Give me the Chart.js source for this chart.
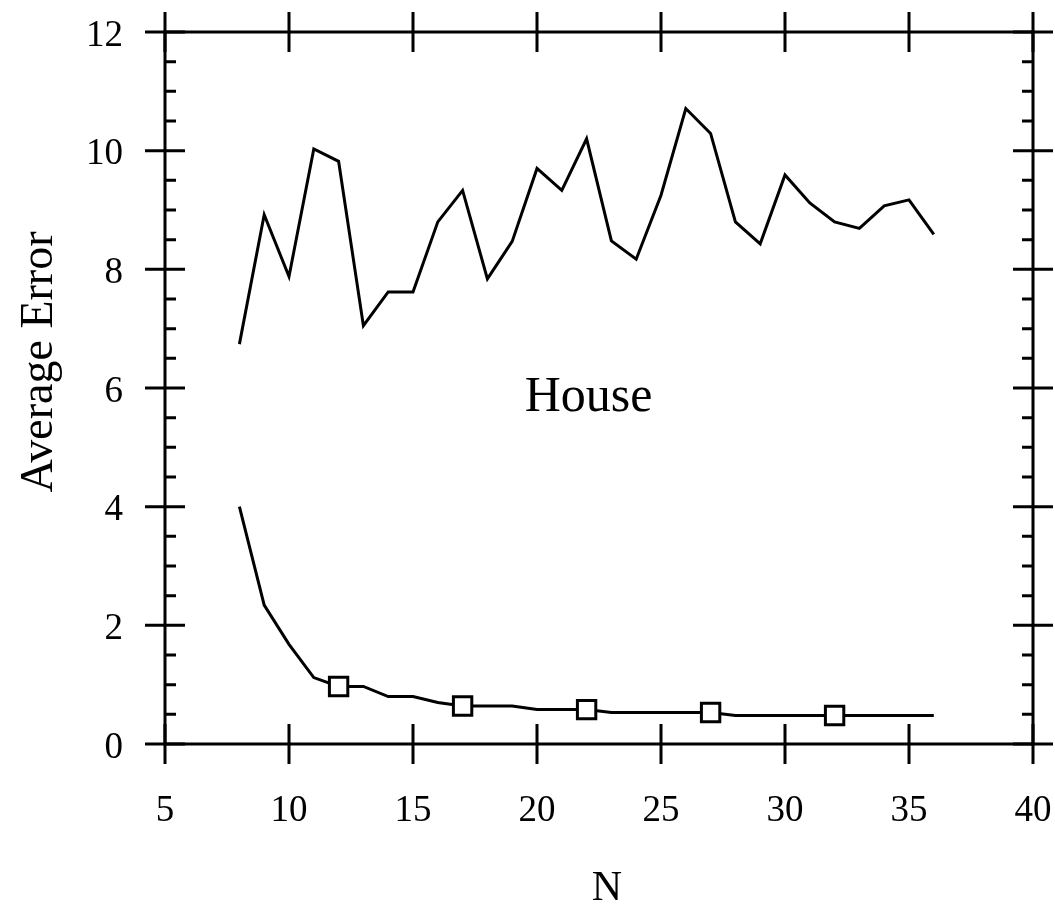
<!DOCTYPE html>
<html>
<head>
<meta charset="utf-8">
<title>House - Average Error</title>
<script src="https://cdn.jsdelivr.net/npm/chart.js@4"></script>
<style>
  html, body { margin: 0; padding: 0; background: #fff; }
  #wrap { width: 1055px; height: 904px; position: relative; }
</style>
</head>
<body>
<div id="wrap"><canvas id="errChart"></canvas></div>
<script>
// données
const nValues = [8, 9, 10, 11, 12, 13, 14, 15, 16, 17, 18, 19, 20, 21, 22, 23, 24, 25, 26, 27, 28, 29, 30, 31, 32, 33, 34, 35, 36];
const upperErr = [6.74, 8.92, 7.88, 10.03, 9.82, 7.05, 7.62, 7.62, 8.80, 9.33, 7.84, 8.47, 9.70, 9.33, 10.20,
  8.48, 8.17, 9.25, 10.71, 10.29, 8.80, 8.43, 9.59, 9.12, 8.80, 8.69, 9.07, 9.17, 8.59];
const lowerErr = [4.00, 2.34, 1.68, 1.12, 0.97, 0.97, 0.80, 0.80, 0.70, 0.64, 0.64, 0.64, 0.58, 0.58, 0.58,
  0.53, 0.53, 0.53, 0.53, 0.53, 0.48, 0.48, 0.48, 0.48, 0.48, 0.48, 0.48, 0.48, 0.48];
const markerN = [12, 17, 22, 27, 32];
const xTicks = [5, 10, 15, 20, 25, 30, 35, 40];
const yTicks = [0, 2, 4, 6, 8, 10, 12];

const serif = "'Liberation Serif', 'Times New Roman', serif";

// cadre + graduations qui traversent les axes
const framePlugin = {
  id: "frame",
  afterDraw(chart) {
    const { ctx, chartArea: a, scales } = chart;
    const xs = scales.x, ys = scales.y;
    ctx.save();
    ctx.strokeStyle = "#000";
    ctx.lineWidth = 3;
    ctx.lineCap = "butt";
    ctx.beginPath();
    ctx.rect(a.left, a.top, a.right - a.left, a.bottom - a.top);
    ctx.stroke();

    ctx.beginPath();
    xTicks.forEach(v => {
      const px = xs.getPixelForValue(v);
      ctx.moveTo(px, a.bottom - 20); ctx.lineTo(px, a.bottom + 20);
      ctx.moveTo(px, a.top - 20); ctx.lineTo(px, a.top + 20);
    });
    yTicks.forEach(v => {
      const py = ys.getPixelForValue(v);
      ctx.moveTo(a.left - 20, py); ctx.lineTo(a.left + 20, py);
      ctx.moveTo(a.right - 20, py); ctx.lineTo(a.right + 20, py);
    });
    // petites graduations tous les 0.5
    for (let i = 0; i < yTicks.length - 1; i++) {
      for (let k = 1; k < 4; k++) {
        const py = ys.getPixelForValue(yTicks[i] + k * 0.5);
        ctx.moveTo(a.left, py); ctx.lineTo(a.left + 11, py);
        ctx.moveTo(a.right - 11, py); ctx.lineTo(a.right, py);
      }
    }
    ctx.stroke();

    // textes
    ctx.fillStyle = "#000";
    ctx.textAlign = "center";
    ctx.textBaseline = "middle";
    ctx.font = "50px " + serif;
    ctx.fillText("House", xs.getPixelForValue(22.08), ys.getPixelForValue(5.83));

    ctx.textBaseline = "alphabetic";
    ctx.font = "42px " + serif;
    ctx.fillText("N", 607, 900);

    ctx.save();
    ctx.translate(52, 362);
    ctx.rotate(-Math.PI / 2);
    ctx.font = "46px " + serif;
    ctx.fillText("Average Error", 0, 0);
    ctx.restore();
    ctx.restore();
  }
};

const ctx = document.getElementById("errChart").getContext("2d");
const chart = new Chart(ctx, {
  type: "line",
  data: {
    datasets: [
      {
        label: "upper",
        data: nValues.map((n, i) => ({ x: n, y: upperErr[i] })),
        borderColor: "#000",
        borderWidth: 3,
        pointRadius: 0,
        tension: 0,
        fill: false
      },
      {
        label: "lower",
        data: nValues.map((n, i) => ({ x: n, y: lowerErr[i] })),
        borderColor: "#000",
        borderWidth: 3,
        pointStyle: "rect",
        pointRadius: c => markerN.includes(nValues[c.dataIndex]) ? 13 : 0,
        pointBorderWidth: 3,
        pointBorderColor: "#000",
        pointBackgroundColor: "#fff",
        tension: 0,
        fill: false
      }
    ]
  },
  options: {
    responsive: true,
    maintainAspectRatio: false,
    animation: false,
    layout: { padding: { top: 32, right: 22, left: 0, bottom: 0 } },
    plugins: {
      legend: { display: false },
      tooltip: { enabled: false }
    },
    scales: {
      x: {
        type: "linear",
        min: 5,
        max: 40,
        grid: { display: false },
        border: { display: false },
        ticks: {
          stepSize: 5,
          padding: 37,
          color: "#000",
          font: { family: serif, size: 37 }
        },
        afterFit: s => {
          s.height = 160;
          s.paddingLeft = 0;
          s.paddingRight = 0;
        }
      },
      y: {
        min: 0,
        max: 12,
        grid: { display: false },
        border: { display: false },
        ticks: {
          stepSize: 2,
          padding: 34,
          labelOffset: 4,
          color: "#000",
          font: { family: serif, size: 37 }
        },
        afterFit: s => {
          s.width = 165;
          s.paddingTop = 0;
          s.paddingBottom = 0;
        }
      }
    }
  },
  plugins: [framePlugin]
});
</script>
</body>
</html>
